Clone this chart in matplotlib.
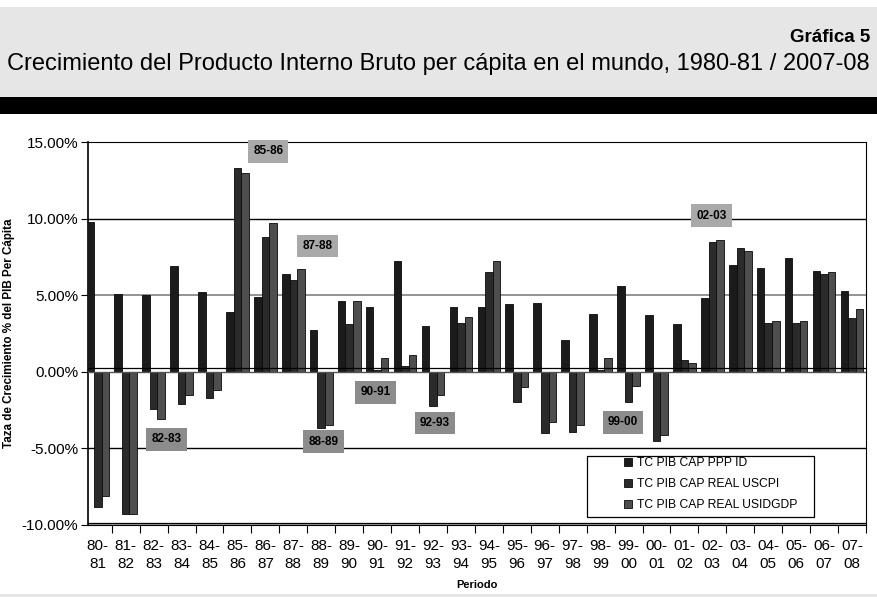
import matplotlib.pyplot as plt
import matplotlib.patches as mpatches
import numpy as np

# periods and growth rates (%)
periodos = ["80-\n81", "81-\n82", "82-\n83", "83-\n84", "84-\n85", "85-\n86", "86-\n87",
            "87-\n88", "88-\n89", "89-\n90", "90-\n91", "91-\n92", "92-\n93", "93-\n94",
            "94-\n95", "95-\n96", "96-\n97", "97-\n98", "98-\n99", "99-\n00", "00-\n01",
            "01-\n02", "02-\n03", "03-\n04", "04-\n05", "05-\n06", "06-\n07", "07-\n08"]
ppp_id = [9.8, 5.1, 5.0, 6.9, 5.2, 3.9, 4.9, 6.4, 2.7, 4.6, 4.2, 7.2, 3.0, 4.2,
          4.2, 4.4, 4.5, 2.1, 3.8, 5.6, 3.7, 3.1, 4.8, 7.0, 6.8, 7.4, 6.6, 5.3]
real_uscpi = [-8.8, -9.3, -2.4, -2.1, -1.7, 13.3, 8.8, 6.0, -3.7, 3.1, 0.1, 0.4, -2.2, 3.2,
              6.5, -2.0, -4.0, -3.9, 0.1, -2.0, -4.5, 0.8, 8.5, 8.1, 3.2, 3.2, 6.4, 3.5]
real_usidgdp = [-8.1, -9.3, -3.1, -1.5, -1.2, 13.0, 9.7, 6.7, -3.5, 4.6, 0.9, 1.1, -1.5, 3.6,
                7.2, -1.0, -3.3, -3.5, 0.9, -0.9, -4.1, 0.6, 8.6, 7.9, 3.3, 3.3, 6.5, 4.1]
series_names = ["TC PIB CAP PPP ID", "TC PIB CAP REAL USCPI", "TC PIB CAP REAL USIDGDP"]
series_colors = ["#1b1b1b", "#2b2b2b", "#4e4e4e"]

# highlighted periods: (label, x position, y position, box colour)
notas = [("85-86", 6.1, 14.4, "#a9a9a9"), ("87-88", 7.86, 8.2, "#a9a9a9"),
         ("82-83", 2.45, -4.4, "#8c8c8c"), ("88-89", 8.07, -4.55, "#8c8c8c"),
         ("90-91", 9.95, -1.35, "#8c8c8c"), ("92-93", 12.07, -3.35, "#8c8c8c"),
         ("99-00", 18.8, -3.3, "#8c8c8c"), ("02-03", 21.96, 10.2, "#a9a9a9")]

W, H = 878, 597
fig = plt.figure(figsize=(W / 100, H / 100), dpi=100)
fig.patch.set_facecolor("white")

# header band
fig.patches.append(mpatches.Rectangle((0, 1 - 97 / H), 1, 90 / H, transform=fig.transFigure,
                                      facecolor="#e6e6e6", edgecolor="none"))
fig.patches.append(mpatches.Rectangle((0, 1 - 114 / H), 1, 17 / H, transform=fig.transFigure,
                                      facecolor="black", edgecolor="none"))
fig.patches.append(mpatches.Rectangle((0, 0), 1, 3 / H, transform=fig.transFigure,
                                      facecolor="#e6e6e6", edgecolor="none"))
fig.text(870 / W, 1 - 37 / H, "Gráfica 5", ha="right", va="center", fontsize=13.5,
         fontweight="bold", family="Liberation Sans")
fig.text(870 / W, 1 - 64 / H, "Crecimiento del Producto Interno Bruto per cápita en el mundo, 1980-81 / 2007-08",
         ha="right", va="center", fontsize=17, family="Liberation Sans")

ax = fig.add_axes([88 / W, (H - 525) / H, (866 - 88) / W, (525 - 142) / H])
x = np.arange(len(periodos))
width = 0.27
for k, (vals, col, name) in enumerate(zip([ppp_id, real_uscpi, real_usidgdp], series_colors, series_names)):
    ax.bar(x + (k - 1) * width, vals, width, color=col, edgecolor="#0a0a0a", linewidth=0.6,
           label=name, zorder=3)

ax.set_xlim(-0.35, len(periodos) - 0.55)
ax.set_ylim(-10, 15)
ax.set_yticks([-10, -5, 0, 5, 10, 15])
ax.set_yticklabels(["-10.00%", "-5.00%", "0.00%", "5.00%", "10.00%", "15.00%"],
                   fontsize=11, family="Liberation Sans")
ax.axhline(-5, color="black", linewidth=1.0, zorder=1)
ax.axhline(10, color="black", linewidth=1.0, zorder=1)
ax.axhline(5, color="#808080", linewidth=1.2, zorder=1)
# floor at zero and at the bottom (3D look)
ax.axhline(0.25, color="black", linewidth=0.9, zorder=4)
ax.axhline(0, color="#555555", linewidth=1.0, zorder=4)
ax.axhspan(-10, -9.85, color="#9a9a9a", zorder=2)
ax.axhline(-9.85, color="black", linewidth=0.8, zorder=2)

ax.set_xticks(x + 0.5, minor=False)
ax.set_xticklabels([])
ax.tick_params(axis="x", which="major", length=6, direction="out")
ax.set_xticks(x, minor=True)
ax.set_xticklabels(periodos, minor=True, fontsize=11, family="Liberation Sans", linespacing=1.4)
ax.tick_params(axis="x", which="minor", length=0, pad=10)
ax.tick_params(axis="y", length=5, pad=2)
ax.spines["left"].set_linewidth(1.2)

ax.set_ylabel("Taza de Crecimiento % del PIB Per Cápita", fontsize=8.4, fontweight="bold",
              family="Liberation Sans", labelpad=5)
ax.set_xlabel("Periodo", fontsize=8, fontweight="bold", family="Liberation Sans", labelpad=6)

for txt, xx, yy, col in notas:
    ax.text(xx, yy, txt, ha="center", va="center", fontsize=8.5, fontweight="bold",
            family="Liberation Sans", zorder=6,
            bbox=dict(boxstyle="square,pad=0.45", facecolor=col, edgecolor="none"))

# legend frame is wider than its contents in the reference
ax.add_patch(mpatches.Rectangle(((587 - 88) / (866 - 88), (525 - 517) / (525 - 142)),
                                (814 - 587) / (866 - 88), (517 - 456) / (525 - 142),
                                transform=ax.transAxes, facecolor="white", edgecolor="black",
                                linewidth=0.9, zorder=6))
leg = ax.legend(loc="lower left", bbox_to_anchor=((620 - 88) / (866 - 88), (525 - 515) / (525 - 142)),
                prop={"family": "Liberation Sans", "size": 8.7}, frameon=False,
                handlelength=0.7, handleheight=0.7, borderpad=0.3,
                labelspacing=0.75, handletextpad=0.4, borderaxespad=0)
leg.set_zorder(7)

fig.savefig("out.png", dpi=100)
